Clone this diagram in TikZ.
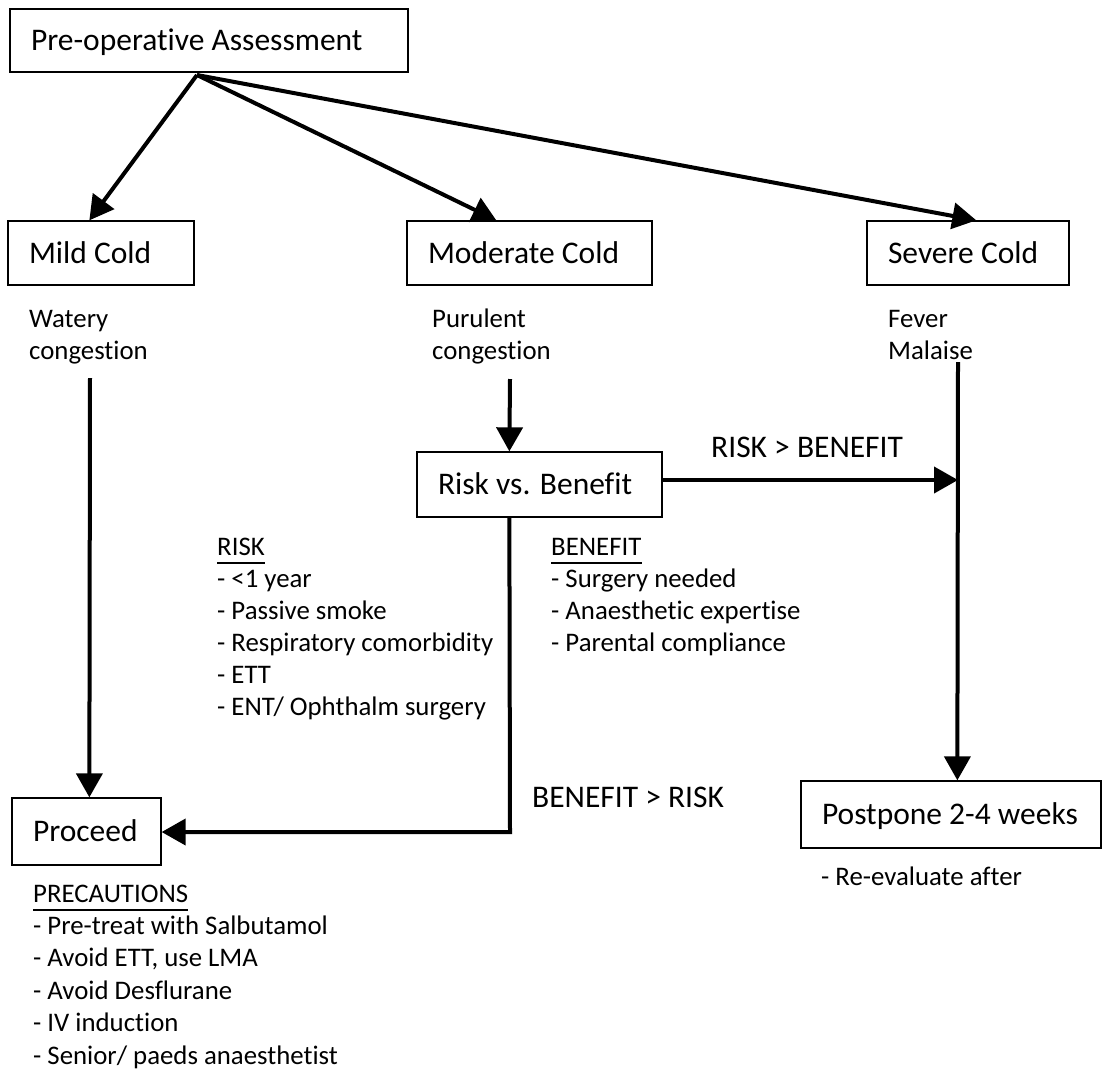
\documentclass[tikz,border=0pt]{standalone}
\usepackage{fontspec}
\setmainfont{Carlito}[Ligatures=NoCommon]
\usetikzlibrary{arrows.meta,calc}
\newcommand\boxline[2]{\makebox[#1][l]{#2}}
\begin{document}
\begin{tikzpicture}[x=1pt,y=-1pt,
  box/.style={draw, line width=1.3pt, rectangle, inner xsep=21pt, inner ysep=0pt,
    font=\fontsize{31.5}{38}\selectfont, text height=20pt, text depth=0pt},
  note/.style={anchor=base west, inner sep=0pt, font=\fontsize{26.8}{32}\selectfont},
  big/.style={anchor=base west, inner sep=0pt, font=\fontsize{31.5}{38}\selectfont},
  arr/.style={line width=4pt, -{Triangle[length=24pt,width=26pt]}},
  uline/.style={line width=1.3pt}]
\useasboundingbox (0,0) rectangle (1102,1071);

% boxes (centre, text width, height)
\node[box, minimum height=63pt] (pre) at (209,40.5) {\boxline{356pt}{Pre-operative Assessment}};
\node[box, minimum height=64pt] (mild) at (101,253) {\boxline{144pt}{Mild Cold}};
\node[box, minimum height=64pt] (moderate) at (529.5,253) {\boxline{203pt}{Moderate Cold}};
\node[box, minimum height=64pt] (severe) at (968,253) {\boxline{160pt}{Severe Cold}};
\node[box, minimum height=65pt] (rvb) at (539.5,484.5) {\boxline{203pt}{Risk vs. Benefit}};
\node[box, minimum height=67pt] (proceed) at (86.5,831.5) {\boxline{107pt}{Proceed}};
\node[box, minimum height=67pt] (postpone) at (951,814.5) {\boxline{258pt}{Postpone 2-4 weeks}};

% symptom notes
\node[note] (w1) at (29,327) {Watery};
\node[note] (w2) at (29,359) {congestion};
\node[note] (p1) at (432,327) {Purulent};
\node[note] (p2) at (432,359) {congestion};
\node[note] (f1) at (888,327) {Fever};
\node[note] (f2) at (888,359) {Malaise};

% branch labels
\node[big] (rgtb) at (711,457) {RISK > BENEFIT};
\node[big] (bgtr) at (532,807) {BENEFIT > RISK};

% risk list
\node[note] (riskhead) at (217,555) {RISK};
\foreach \t [count=\i] in {- <1 year, - Passive smoke, - Respiratory comorbidity, - ETT, - ENT/ Ophthalm surgery}
  \node[note, name=risk\i] at (217,{555+32*\i}) {\t};
\draw[uline] ($(riskhead.base west)+(0,8)$) -- ($(riskhead.base east)+(0,8)$);

% benefit list
\node[note] (benhead) at (551,555) {BENEFIT};
\foreach \t [count=\i] in {- Surgery needed, - Anaesthetic expertise, - Parental compliance}
  \node[note, name=ben\i] at (551,{555+32*\i}) {\t};
\draw[uline] ($(benhead.base west)+(0,8)$) -- ($(benhead.base east)+(0,8)$);

% precautions list
\node[note] (prehead) at (33,902) {PRECAUTIONS};
\foreach \t [count=\i] in {- Pre-treat with Salbutamol, {- Avoid ETT, use LMA}, - Avoid Desflurane, - IV induction, - Senior/ paeds anaesthetist}
  \node[note, name=prec\i] at (33,{902+32.4*\i}) {\t};
\draw[uline] ($(prehead.base west)+(0,8)$) -- ($(prehead.base east)+(0,8)$);

% postpone note
\node[note] (reeval) at (821,885) {- Re-evaluate after};

% connector points
\coordinate (fork) at (197,75);
\coordinate (mildtop) at ($(mild.north west)+(82,0)$);
\coordinate (modtop) at ($(moderate.north west)+(90,0)$);
\coordinate (sevtop) at ($(severe.north west)+(110,0)$);
\coordinate (mildfoot) at (90,378);
\coordinate (proctop) at ($(proceed.north west)+(78,0)$);
\coordinate (modfoot) at (510,379);
\coordinate (rvbtop) at ($(rvb.north west)+(93,0)$);
\coordinate (rvbright) at ($(rvb.east)+(0,-4.5)$);
\coordinate (rvbfoot) at ($(rvb.south west)+(93,0)$);
\coordinate (sevfoot) at (958,362);
\coordinate (junction) at (958,480);
\coordinate (posttop) at ($(postpone.north west)+(157,0)$);
\coordinate (elbow) at (510,832);

% connectors
\draw[arr] (fork) -- (mildtop);
\draw[arr] (fork) -- (modtop);
\draw[arr] (fork) -- (sevtop);
\draw[arr] (mildfoot) -- (proctop);
\draw[arr] (modfoot) -- (rvbtop);
\draw[arr] (rvbright) -- (junction);
\draw[arr] (sevfoot) -- (posttop);
\draw[arr] (rvbfoot) -- (elbow) -- (elbow -| proceed.east);
\end{tikzpicture}
\end{document}
